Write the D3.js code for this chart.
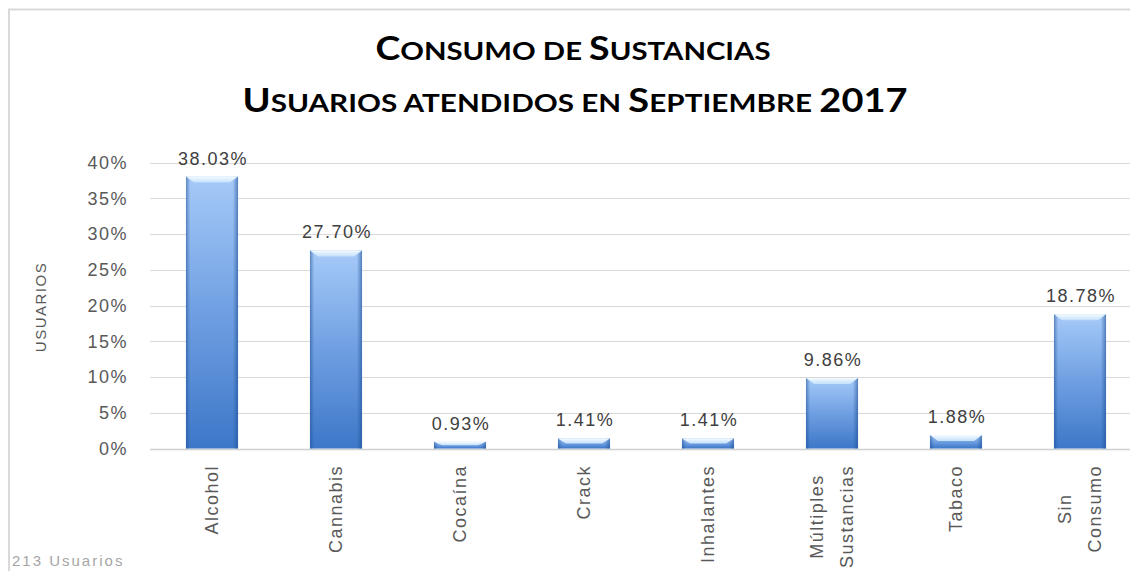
<!DOCTYPE html>
<html>
<head>
<meta charset="utf-8">
<script src="https://cdn.jsdelivr.net/npm/d3@7"></script>
<style>
  body { margin: 0; background: #fff; }
  svg { display: block; }
</style>
</head>
<body>
<div id="chart"></div>
<script>
// datos
const categorias = [["Alcohol"], ["Cannabis"], ["Cocaína"], ["Crack"], ["Inhalantes"], ["Múltiples", "Sustancias"], ["Tabaco"], ["Sin", "Consumo"]];
const porcentajes = [38.03, 27.70, 0.93, 1.41, 1.41, 9.86, 1.88, 18.78];
const ticksY = [0, 5, 10, 15, 20, 25, 30, 35, 40];
const titulo = ["Consumo de Sustancias", "Usuarios atendidos en Septiembre 2017"];

const W = 1130, H = 571;
const margin = {top: 162.5, left: 150, bottom: 122.5};
const fuente = "Liberation Sans, Arial, sans-serif";

const svg = d3.select("#chart").append("svg")
    .attr("width", W)
    .attr("height", H);

const defs = svg.append("defs");

// degradado vertical de la barra
const gv = defs.append("linearGradient").attr("id", "gv")
    .attr("x1", 0).attr("y1", 0).attr("x2", 0).attr("y2", 1);
gv.append("stop").attr("offset", "0%").attr("stop-color", "#a6caf8");
gv.append("stop").attr("offset", "50%").attr("stop-color", "#6f9fe2");
gv.append("stop").attr("offset", "100%").attr("stop-color", "#3d77c8");

// sombra de los bordes laterales
const gh = defs.append("linearGradient").attr("id", "gh")
    .attr("x1", 0).attr("y1", 0).attr("x2", 1).attr("y2", 0);
gh.append("stop").attr("offset", "0%").attr("stop-color", "#1f4f94").attr("stop-opacity", 0.55);
gh.append("stop").attr("offset", "8%").attr("stop-color", "#1f4f94").attr("stop-opacity", 0);
gh.append("stop").attr("offset", "90%").attr("stop-color", "#1f4f94").attr("stop-opacity", 0);
gh.append("stop").attr("offset", "100%").attr("stop-color", "#1f4f94").attr("stop-opacity", 0.6);

// bisel superior
const gb = defs.append("linearGradient").attr("id", "gb")
    .attr("x1", 0).attr("y1", 0).attr("x2", 0).attr("y2", 1);
gb.append("stop").attr("offset", "0%").attr("stop-color", "#f4fbff");
gb.append("stop").attr("offset", "100%").attr("stop-color", "#c4e0fb");

// marco
svg.append("rect")
    .attr("x", 9).attr("y", 9.5)
    .attr("width", W + 20).attr("height", H + 20)
    .attr("fill", "none")
    .attr("stroke", "#d9d9d9")
    .attr("stroke-width", 2);

const x = d3.scaleBand()
    .domain(d3.range(categorias.length))
    .range([margin.left, margin.left + 8 * 124])
    .paddingInner(0.58)
    .paddingOuter(0.29);

const y = d3.scaleLinear()
    .domain([0, 40])
    .range([H - margin.bottom, margin.top]);

// lineas de cuadricula
svg.append("g")
  .selectAll("line")
  .data(ticksY)
  .enter().append("line")
    .attr("x1", margin.left)
    .attr("x2", W)
    .attr("y1", d => Math.round(y(d)) + 0.5)
    .attr("y2", d => Math.round(y(d)) + 0.5)
    .attr("stroke", d => d === 0 ? "#d0d0d0" : "#d9d9d9")
    .attr("stroke-width", d => d === 0 ? 1.5 : 1);

// eje Y
const yAxis = svg.append("g")
    .attr("transform", "translate(" + (margin.left - 22) + ",0)")
    .call(d3.axisLeft(y).tickValues(ticksY).tickSize(0).tickFormat(d => d + "%"));
yAxis.select(".domain").remove();
yAxis.selectAll("text")
    .attr("x", 0)
    .attr("font-family", fuente)
    .attr("font-size", 18)
    .attr("letter-spacing", 1.5)
    .attr("fill", "#595959");

svg.append("text")
    .attr("transform", "translate(46,307) rotate(-90)")
    .attr("text-anchor", "middle")
    .attr("font-family", fuente)
    .attr("font-size", 15)
    .attr("letter-spacing", 1.5)
    .attr("fill", "#595959")
    .text("USUARIOS");

// barras
const barras = svg.append("g")
  .selectAll("g")
  .data(porcentajes)
  .enter().append("g");

barras.append("rect")
    .attr("x", (d, i) => x(i))
    .attr("y", d => y(d))
    .attr("width", x.bandwidth())
    .attr("height", d => y(0) - y(d))
    .attr("fill", "url(#gv)");

barras.append("rect")
    .attr("x", (d, i) => x(i))
    .attr("y", d => y(d))
    .attr("width", x.bandwidth())
    .attr("height", d => y(0) - y(d))
    .attr("fill", "url(#gh)");

barras.append("path")
    .attr("d", function(d, i) {
      const x0 = x(i), x1 = x(i) + x.bandwidth(), y0 = y(d);
      const b = Math.min(6, (y(0) - y(d)) / 2);
      return "M" + x0 + "," + y0 + "L" + x1 + "," + y0 +
             "L" + (x1 - 8) + "," + (y0 + b) + "L" + (x0 + 8) + "," + (y0 + b) + "Z";
    })
    .attr("fill", "url(#gb)");

// etiquetas de datos
barras.append("text")
    .attr("x", (d, i) => x(i) + x.bandwidth() / 2 + 1)
    .attr("y", d => y(d) - 12)
    .attr("text-anchor", "middle")
    .attr("font-family", fuente)
    .attr("font-size", 18)
    .attr("letter-spacing", 1.5)
    .attr("fill", "#404040")
    .text(d => d.toFixed(2) + "%");

// etiquetas de categorias
const cats = svg.append("g")
  .selectAll("g")
  .data(categorias)
  .enter().append("g");

cats.each(function(lineas, i) {
  const g = d3.select(this);
  const cx = x(i) + x.bandwidth() / 2;
  const t = g.append("text")
      .attr("font-family", fuente)
      .attr("font-size", 18)
      .attr("letter-spacing", 1.5)
      .attr("fill", "#595959")
      .attr("text-anchor", "middle");
  const tsp = lineas.map(l => t.append("tspan").text(l));
  let maxLen = 0;
  tsp.forEach(s => { maxLen = Math.max(maxLen, s.node().getComputedTextLength()); });
  const cy = 465 + maxLen / 2;
  t.attr("transform", "translate(" + cx + "," + cy + ") rotate(-90)");
  const off = (lineas.length - 1) * 30 / 2;
  tsp.forEach((s, k) => s.attr("x", 0).attr("y", -off + k * 30 + 6));
});

// titulo en versalitas
function versalitas(sel, texto, grande, chica) {
  texto.split("").forEach(function(c) {
    const mayus = c !== c.toLowerCase() || /[0-9]/.test(c);
    sel.append("tspan")
      .attr("font-size", mayus ? grande : chica)
      .text(c.toUpperCase());
  });
}

const tit = svg.append("g")
    .attr("font-family", "Lato, 'Open Sans', sans-serif")
    .attr("font-weight", "bold")
    .attr("text-anchor", "middle")
    .attr("fill", "#000");

const t1 = tit.append("text")
    .attr("x", 573).attr("y", 60)
    .attr("textLength", 395)
    .attr("lengthAdjust", "spacingAndGlyphs");
versalitas(t1, titulo[0], 32, 25);

const t2 = tit.append("text")
    .attr("x", 575).attr("y", 112)
    .attr("textLength", 665)
    .attr("lengthAdjust", "spacingAndGlyphs");
versalitas(t2, titulo[1], 32, 25);

// nota al pie
svg.append("text")
    .attr("x", 12).attr("y", 566)
    .attr("font-family", fuente)
    .attr("font-size", 15)
    .attr("letter-spacing", 2)
    .attr("fill", "#a6a6a6")
    .text("213 Usuarios");
</script>
</body>
</html>
